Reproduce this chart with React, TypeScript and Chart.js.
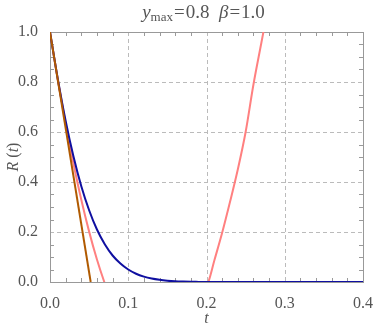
import React, { useEffect, useRef } from "react";
import { Chart, registerables } from "chart.js";

Chart.register(...registerables);

// Blue curve
const tBlue = [0, 0.01, 0.02, 0.03, 0.04, 0.05, 0.06, 0.07, 0.08, 0.09, 0.1, 0.11, 0.12, 0.13, 0.14, 0.15, 0.16, 0.17, 0.18, 0.19, 0.2, 0.25, 0.3, 0.35, 0.4];
const rBlue = [1, 0.811, 0.644, 0.502, 0.383, 0.287, 0.21, 0.151, 0.106, 0.074, 0.05, 0.033, 0.0215, 0.0137, 0.0086, 0.0052, 0.003, 0.0018, 0.001, 0.0005, 0, 0, 0, 0, 0];

// Brown line
const tBrown = [0, 0.052];
const rBrown = [1, 0];

// Pink curve
const tPink = [0, 0.01, 0.02, 0.03, 0.04, 0.05, 0.06, 0.0694, 0.08, 0.1, 0.12, 0.14, 0.16, 0.18, 0.2023, 0.21, 0.22, 0.23, 0.24, 0.25, 0.26, 0.27, 0.28];
const rPink = [1, 0.808, 0.632, 0.473, 0.329, 0.2015, 0.09, 0, -0.09, -0.2, -0.24, -0.23, -0.18, -0.1, 0, 0.086, 0.197, 0.32, 0.45, 0.6, 0.79, 0.955, 1.12];

const xTicks = [0, 0.1, 0.2, 0.3, 0.4];
const yTicks = [0, 0.2, 0.4, 0.6, 0.8, 1.0];

const SERIF = "'Liberation Serif', 'Times New Roman', serif";
const TEXT = "#555555";

const pts = (xs: number[], ys: number[]) => xs.map((x, i) => ({ x, y: ys[i] }));

const framePlugin = {
  id: "frame",
  beforeDatasetsDraw(chart: any) {
    const { ctx, chartArea: a, scales } = chart;
    const xs = scales.x, ys = scales.y;
    ctx.save();
    ctx.strokeStyle = "#bbbbbb";
    ctx.lineWidth = 1;
    ctx.setLineDash([4, 3]);
    xTicks.slice(1, -1).forEach((v) => {
      const px = Math.round(xs.getPixelForValue(v)) + 0.5;
      ctx.beginPath(); ctx.moveTo(px, a.top); ctx.lineTo(px, a.bottom); ctx.stroke();
    });
    yTicks.slice(1, -1).forEach((v) => {
      const py = Math.round(ys.getPixelForValue(v)) + 0.5;
      ctx.beginPath(); ctx.moveTo(a.left, py); ctx.lineTo(a.right, py); ctx.stroke();
    });
    ctx.setLineDash([]);
    ctx.strokeStyle = "#9a9a9a";
    for (let i = 1; i < 20; i++) {
      if (i % 5 === 0) continue;
      const px = Math.round(xs.getPixelForValue(i * 0.02)) + 0.5;
      ctx.beginPath(); ctx.moveTo(px, a.bottom); ctx.lineTo(px, a.bottom - 4); ctx.stroke();
      ctx.beginPath(); ctx.moveTo(px, a.top); ctx.lineTo(px, a.top + 4); ctx.stroke();
    }
    for (let i = 1; i < 20; i++) {
      if (i % 4 === 0) continue;
      const py = Math.round(ys.getPixelForValue(i * 0.05)) + 0.5;
      ctx.beginPath(); ctx.moveTo(a.left, py); ctx.lineTo(a.left + 4, py); ctx.stroke();
      ctx.beginPath(); ctx.moveTo(a.right, py); ctx.lineTo(a.right - 4, py); ctx.stroke();
    }
    ctx.strokeStyle = "#999999";
    ctx.strokeRect(Math.round(a.left) + 0.5, Math.round(a.top) + 0.5, Math.round(a.right - a.left), Math.round(a.bottom - a.top));
    ctx.restore();
  },
  afterDraw(chart: any) {
    const { ctx, chartArea: a } = chart;
    ctx.save();
    ctx.fillStyle = TEXT;
    ctx.textBaseline = "alphabetic";
    // Title
    const segs = [
      { t: "y", f: `italic 19px ${SERIF}`, dy: 0, gap: 0 },
      { t: "max", f: `13px ${SERIF}`, dy: 3, gap: 1 },
      { t: "=", f: `19px ${SERIF}`, dy: 0, gap: 1 },
      { t: "0.8  ", f: `19px ${SERIF}`, dy: 0, gap: 0 },
      { t: "β", f: `italic 19px ${SERIF}`, dy: 0, gap: 1 },
      { t: "=", f: `19px ${SERIF}`, dy: 0, gap: 1 },
      { t: "1.0", f: `19px ${SERIF}`, dy: 0, gap: 0 },
    ];
    let total = 0;
    segs.forEach((s) => { ctx.font = s.f; total += ctx.measureText(s.t).width + s.gap; });
    let x = (a.left + a.right) / 2 - total / 2 - 3;
    segs.forEach((s) => {
      ctx.font = s.f;
      ctx.textAlign = "left";
      ctx.fillText(s.t, x, 18 + s.dy);
      x += ctx.measureText(s.t).width + s.gap;
    });
    // x title
    ctx.font = `italic 16px ${SERIF}`;
    ctx.textAlign = "center";
    ctx.fillText("t", (a.left + a.right) / 2, 323);
    // y title
    ctx.translate(18, (a.top + a.bottom) / 2);
    ctx.rotate(-Math.PI / 2);
    const ys = [
      { t: "R", f: `italic 16px ${SERIF}` },
      { t: " (", f: `16px ${SERIF}` },
      { t: "t", f: `italic 16px ${SERIF}` },
      { t: ")", f: `16px ${SERIF}` },
    ];
    let tw = 0;
    ys.forEach((s) => { ctx.font = s.f; tw += ctx.measureText(s.t).width; });
    let yx = -tw / 2;
    ctx.textAlign = "left";
    ys.forEach((s) => {
      ctx.font = s.f;
      ctx.fillText(s.t, yx, 0);
      yx += ctx.measureText(s.t).width;
    });
    ctx.restore();
  },
};

export default function App() {
  const ref = useRef<HTMLCanvasElement>(null);
  useEffect(() => {
    document.body.style.margin = "0";
    const chart = new Chart(ref.current as HTMLCanvasElement, {
      type: "line",
      data: {
        datasets: [
          { data: pts(tBrown, rBrown), borderColor: "#b05a00", borderWidth: 2, pointRadius: 0, tension: 0 },
          { data: pts(tBlue, rBlue), borderColor: "#0f0fa0", borderWidth: 2, pointRadius: 0, cubicInterpolationMode: "monotone" },
          { data: pts(tPink, rPink), borderColor: "#ff8080", borderWidth: 2, pointRadius: 0, cubicInterpolationMode: "monotone" },
        ],
      },
      options: {
        animation: false,
        responsive: false,
        events: [],
        layout: { padding: { left: 0, right: 11, top: 32, bottom: 0 } },
        plugins: { legend: { display: false }, tooltip: { enabled: false }, title: { display: false } },
        scales: {
          x: {
            type: "linear",
            min: 0,
            max: 0.4,
            grid: { display: false },
            border: { display: false },
            ticks: {
              stepSize: 0.1,
              padding: 4,
              maxRotation: 0,
              color: TEXT,
              font: { family: SERIF, size: 16 },
              callback: (v: any) => Number(v).toFixed(1),
            },
            afterFit: (s: any) => { s.height = 50; s.paddingLeft = 0; s.paddingRight = 0; },
          },
          y: {
            type: "linear",
            min: 0,
            max: 1,
            grid: { display: false },
            border: { display: false },
            ticks: {
              stepSize: 0.2,
              padding: 4,
              color: TEXT,
              font: { family: SERIF, size: 16 },
              callback: (v: any) => Number(v).toFixed(1),
            },
            afterFit: (s: any) => { s.width = 50; s.paddingTop = 0; s.paddingBottom = 0; },
          },
        },
      },
      plugins: [framePlugin],
    } as any);
    return () => chart.destroy();
  }, []);
  return (
    <div style={{ width: 374, height: 332, position: "relative" }}>
      <canvas ref={ref} width={374} height={332} style={{ display: "block" }} />
    </div>
  );
}
